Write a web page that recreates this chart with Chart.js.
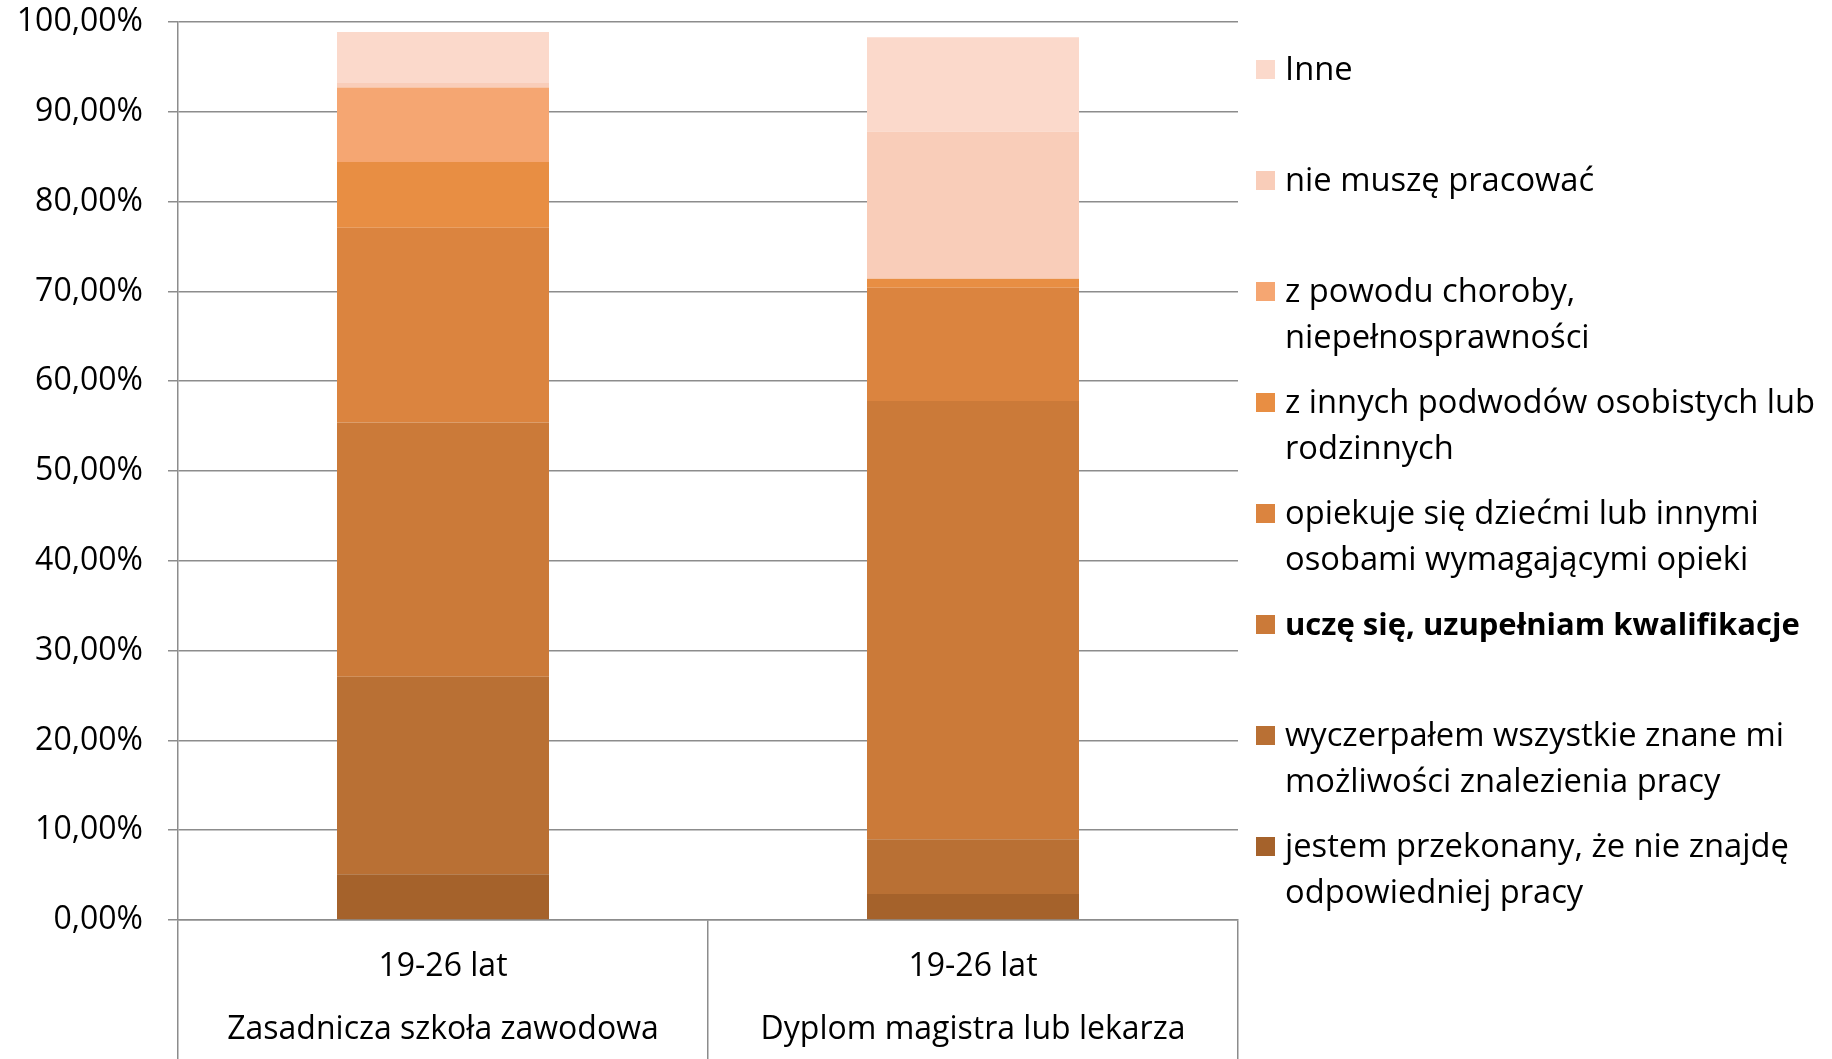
<!DOCTYPE html>
<html>
<head>
<meta charset="utf-8">
<script src="https://cdn.jsdelivr.net/npm/chart.js@4/dist/chart.umd.min.js"></script>
<style>
  html, body { margin: 0; padding: 0; background: #fff; }
  canvas { display: block; }
</style>
</head>
<body>
<canvas id="myChart" width="1832" height="1059"></canvas>
<script>
// categories (two-line labels: age group / education)
const categories = [
    ['19-26 lat', 'Zasadnicza szkoła zawodowa'],
    ['19-26 lat', 'Dyplom magistra lub lekarza']
];

// series values in %, bottom of stack first
const jestem = [5.1, 2.9];
const wyczerpalem = [22.0, 6.1];
const ucze = [28.3, 48.8];
const opiekuje = [21.7, 12.6];
const zInnych = [7.3, 1.0];
const zPowodu = [8.3, 0];
const nieMusze = [0.5, 16.4];
const inne = [5.7, 10.5];

const yTicks = [0, 10, 20, 30, 40, 50, 60, 70, 80, 90, 100];

const FONT = "'Open Sans', 'DejaVu Sans', sans-serif";
const gridColor = '#8c8c8c';

const datasets = [
    { label: ['jestem przekonany, że nie znajdę', 'odpowiedniej pracy'], data: jestem, backgroundColor: '#A5622B' },
    { label: ['wyczerpałem wszystkie znane mi', 'możliwości znalezienia pracy'], data: wyczerpalem, backgroundColor: '#B97034' },
    { label: ['uczę się, uzupełniam kwalifikacje'], data: ucze, backgroundColor: '#CB7A39', bold: true },
    { label: ['opiekuje się dziećmi lub innymi', 'osobami wymagającymi opieki'], data: opiekuje, backgroundColor: '#DB843F' },
    { label: ['z innych podwodów osobistych lub', 'rodzinnych'], data: zInnych, backgroundColor: '#E88E43' },
    { label: ['z powodu choroby,', 'niepełnosprawności'], data: zPowodu, backgroundColor: '#F5A672' },
    { label: ['nie muszę pracować'], data: nieMusze, backgroundColor: '#F9CDB9' },
    { label: ['Inne'], data: inne, backgroundColor: '#FBD9CB' }
];

// legend on the right, drawn with fixed pitch like the original
const sideLegend = {
    id: 'sideLegend',
    afterDraw(chart) {
        const ctx = chart.ctx;
        const area = chart.chartArea;
        const x0 = area.right + 18;
        const ds = chart.data.datasets;
        ctx.save();
        ctx.textBaseline = 'alphabetic';
        for (let k = 0; k < ds.length; k++) {
            const d = ds[ds.length - 1 - k];
            const base = area.top + 58 + k * 111;
            ctx.fillStyle = d.backgroundColor;
            ctx.fillRect(x0, base - 20, 19, 19);
            ctx.fillStyle = '#000';
            ctx.font = d.bold ? 'bold 31px ' + FONT : '32.7px ' + FONT;
            d.label.forEach((line, j) => {
                ctx.fillText(line, x0 + 29, base + j * 45.5);
            });
        }
        ctx.restore();
    }
};

const ctx = document.getElementById('myChart').getContext('2d');
const myChart = new Chart(ctx, {
    type: 'bar',
    data: {
        labels: categories,
        datasets: datasets.map(d => ({
            label: d.label,
            data: d.data,
            backgroundColor: d.backgroundColor,
            bold: d.bold,
            borderWidth: 0,
            categoryPercentage: 1,
            barPercentage: 0.4
        }))
    },
    plugins: [sideLegend],
    options: {
        responsive: false,
        animation: false,
        layout: {
            padding: { top: 22, right: 594, left: 0, bottom: 0 }
        },
        plugins: {
            legend: { display: false },
            tooltip: { enabled: false }
        },
        scales: {
            x: {
                stacked: true,
                grid: {
                    drawOnChartArea: false,
                    tickLength: 139,
                    color: gridColor,
                    lineWidth: 1.5
                },
                border: { color: gridColor, width: 1.5 },
                ticks: {
                    color: '#000',
                    font: { family: FONT, size: 32, lineHeight: 1.95 },
                    padding: -123,
                    maxRotation: 0,
                    autoSkip: false
                },
                afterFit(scale) {
                    scale.height = 139;
                    scale.paddingTop = 0;
                    scale.paddingBottom = 0;
                }
            },
            y: {
                stacked: true,
                min: 0,
                max: 100,
                afterBuildTicks(scale) { scale.ticks = yTicks.map(v => ({ value: v })); },
                grid: { color: gridColor, lineWidth: 1.5, tickLength: 10 },
                border: { color: gridColor, width: 1.5 },
                ticks: {
                    color: '#000',
                    font: { family: FONT, size: 32 },
                    padding: 25,
                    callback: v => v.toFixed(2).replace('.', ',') + '%'
                },
                afterFit(scale) {
                    scale.width = 178;
                    scale.paddingTop = 0;
                    scale.paddingBottom = 0;
                }
            }
        }
    }
});
</script>
</body>
</html>
